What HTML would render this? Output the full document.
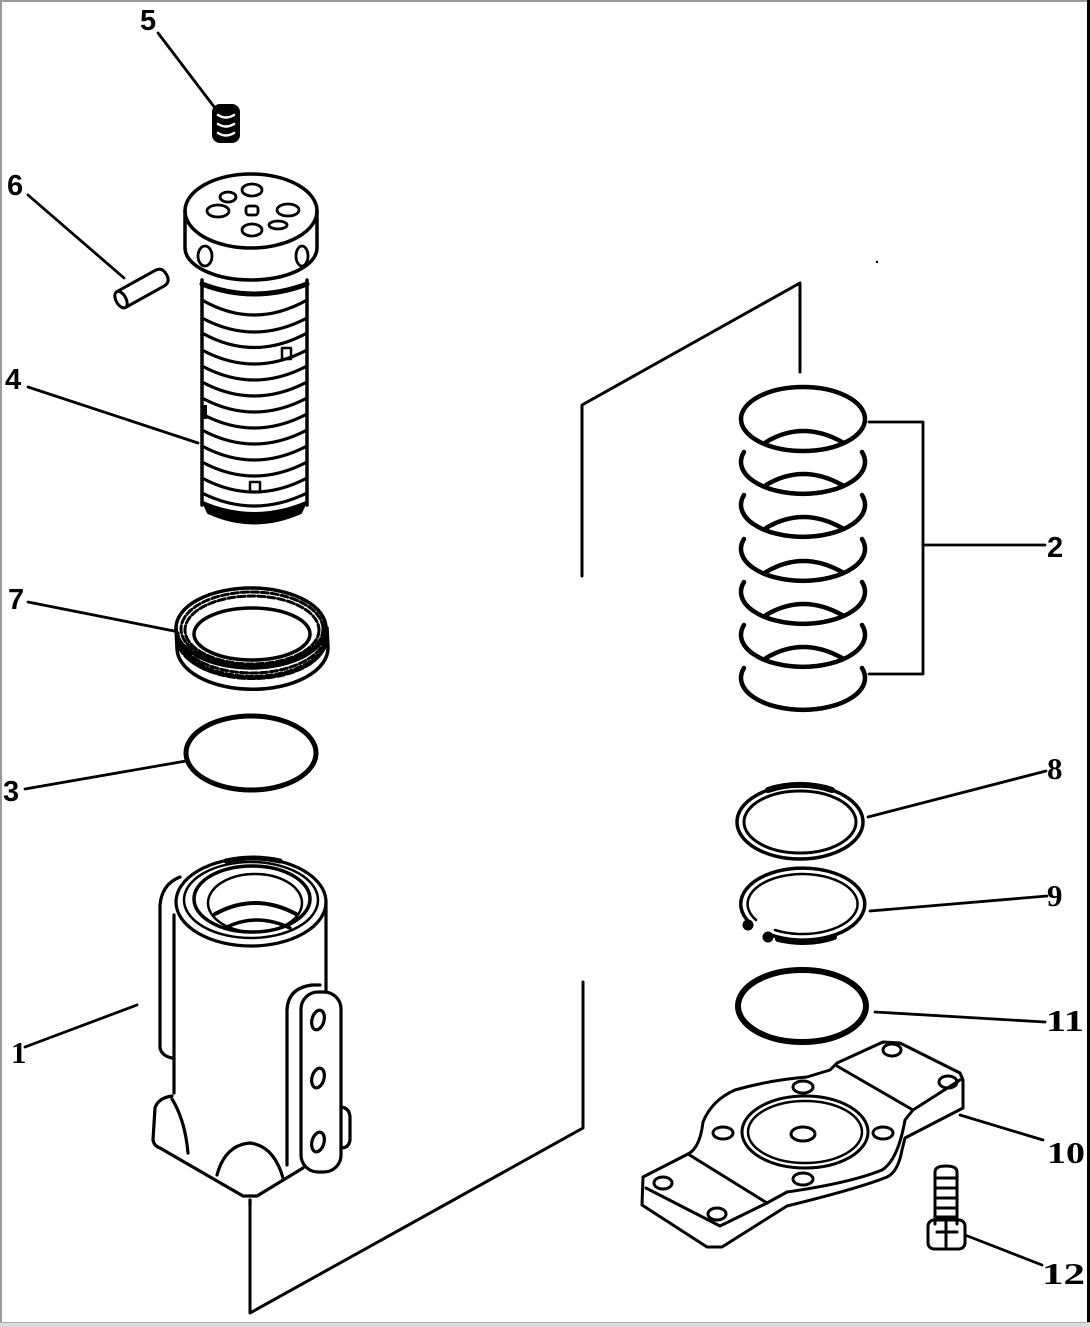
<!DOCTYPE html>
<html>
<head>
<meta charset="utf-8">
<style>
html,body{margin:0;padding:0;background:#fff;}
svg{display:block;}
.s{font-family:"Liberation Sans",sans-serif;font-weight:bold;font-size:29px;fill:#000;}
.f{font-family:"Liberation Serif",serif;font-weight:bold;font-size:31px;fill:#000;}
</style>
</head>
<body>
<svg width="1090" height="1327" viewBox="0 0 1090 1327" xmlns="http://www.w3.org/2000/svg">
<rect x="0" y="0" width="1090" height="1327" fill="#fff"/>
<!-- frame -->
<rect x="0" y="0" width="1090" height="2" fill="#9a9a9a"/>
<rect x="0" y="0" width="2" height="1327" fill="#9a9a9a"/>
<rect x="1087" y="0" width="3" height="1324" fill="#000"/>
<rect x="0" y="1322" width="1090" height="5" fill="#dcdcdc"/>
<rect x="0" y="1322" width="1090" height="1" fill="#b0b0b0"/>

<g fill="none" stroke="#000" stroke-linecap="round" stroke-linejoin="round">

<!-- exploded axis lines -->
<path d="M250 1202 L250 1313 L583 1128 L583 982" stroke-width="3"/>
<path d="M582 576 L582 405 L800 283 L800 372" stroke-width="3"/>

<!-- leader lines -->
<g stroke-width="2.8">
<line x1="158" y1="33" x2="215" y2="108"/>
<line x1="28" y1="195" x2="124" y2="278"/>
<line x1="28" y1="387" x2="198" y2="443"/>
<line x1="28" y1="602" x2="174" y2="631"/>
<line x1="25" y1="789" x2="186" y2="761"/>
<line x1="25" y1="1047" x2="137" y2="1005"/>
<path d="M869 422 L923 422 L923 674 L869 674"/>
<line x1="923" y1="545" x2="1045" y2="545"/>
<line x1="868" y1="817" x2="1046" y2="771"/>
<line x1="870" y1="911" x2="1047" y2="896"/>
<line x1="875" y1="1012" x2="1045" y2="1022"/>
<line x1="960" y1="1115" x2="1043" y2="1140"/>
<line x1="965" y1="1235" x2="1042" y2="1265"/>
</g>

<!-- Part 5 plug -->
<rect x="213" y="105" width="26" height="37" rx="7" fill="#000" stroke-width="2"/>
<path d="M218 115 Q226 120 234 115 M218 124 Q226 129 234 124 M218 133 Q226 138 234 133" stroke="#fff" stroke-width="2.5"/>

<!-- Part 6 pin -->
<g transform="rotate(-29 142 288)" stroke-width="3">
<path d="M118 279 L162 279 Q170 279 170 288 Q170 297 162 297 L118 297"/>
<ellipse cx="118" cy="288" rx="5" ry="9"/>
</g>

<!-- Part 4 core -->
<g stroke-width="3.5">
<ellipse cx="251" cy="211" rx="66" ry="37"/>
<path d="M185 211 L185 248 A66 32 0 0 0 317 248 L317 211"/>
<path d="M202 280 L202 505 M307 280 L307 505"/>
<path d="M202 284 Q254 304 307 284" stroke-width="5"/>
</g>
<g stroke-width="2.8">
<ellipse cx="252" cy="190" rx="10" ry="6"/>
<ellipse cx="228" cy="197" rx="8" ry="5"/>
<ellipse cx="218" cy="211" rx="11" ry="6"/>
<rect x="246" y="206" width="12" height="9" rx="3"/>
<ellipse cx="288" cy="210" rx="11" ry="6"/>
<ellipse cx="252" cy="230" rx="10" ry="6"/>
<ellipse cx="278" cy="225" rx="9" ry="4"/>
<ellipse cx="205" cy="256" rx="7" ry="10"/>
<ellipse cx="302" cy="256" rx="6" ry="10"/>
</g>
<g stroke-width="3.2">
<path d="M202 300 Q254 330 307 300"/>
<path d="M202 318 Q254 346 307 318"/>
<path d="M202 333 Q254 362 307 333"/>
<path d="M202 350 Q254 378 307 350"/>
<path d="M202 366 Q254 394 307 366"/>
<path d="M202 382 Q254 410 307 382"/>
<path d="M202 398 Q254 426 307 398"/>
<path d="M202 414 Q254 442 307 414"/>
<path d="M202 430 Q254 458 307 430"/>
<path d="M202 446 Q254 474 307 446"/>
<path d="M202 462 Q254 490 307 462"/>
<path d="M202 478 Q254 506 307 478"/>
<path d="M202 493 Q254 519 307 493"/>
</g>
<rect x="282" y="348" width="9" height="11" stroke-width="2.5"/>
<rect x="250" y="482" width="10" height="10" stroke-width="2.5"/>
<rect x="201" y="405" width="6" height="14" fill="#000" stroke="none"/>
<path d="M203 502 Q254 524 306 502 L301 513 Q254 534 208 513 Z" fill="#000" stroke-width="2"/>

<!-- Part 7 knurled ring -->
<g stroke-width="3.5">
<ellipse cx="251" cy="628" rx="75" ry="40"/>
<ellipse cx="252" cy="634" rx="58" ry="26"/>
<path d="M176 628 L177 648 A75 41 0 0 0 328 648 L327 628"/>
</g>
<g stroke-width="3" stroke-dasharray="7 3">
<ellipse cx="252" cy="630" rx="67" ry="34"/>
<ellipse cx="252" cy="629" rx="71" ry="37"/>
<path d="M177 638 A75 40 0 0 0 327 638"/>
<path d="M180 645 A73 38 0 0 0 325 645"/>
<path d="M178 633 A74 40 0 0 0 326 633"/>
<path d="M179 641 A74 40 0 0 0 326 641"/>
</g>

<!-- Part 3 O-ring -->
<ellipse cx="251" cy="753" rx="65" ry="37" stroke-width="5"/>

<!-- Part 1 housing -->
<g stroke-width="3.2">
<ellipse cx="251" cy="902" rx="75" ry="44"/>
<ellipse cx="251" cy="900" rx="67" ry="38" stroke-width="2.5"/>
<ellipse cx="252" cy="899" rx="58" ry="33" stroke-width="3.5"/>
<ellipse cx="255" cy="903" rx="47" ry="29" stroke-width="2.5"/>
<path d="M215 914 Q255 892 296 914" stroke-width="4"/>
<path d="M225 928 Q256 912 290 928" stroke-width="3.5"/>
<path d="M226 861 Q253 855 280 861" stroke-width="5"/>
<path d="M174 915 L174 1093"/>
<path d="M326 902 L326 990"/>
<path d="M180 877 Q162 884 160 905 L160 1048 Q162 1056 172 1058"/>
<path d="M287 1165 L287 1010 Q288 988 312 985 L320 985"/>
<rect x="301" y="992" width="40" height="180" rx="17"/>
<ellipse cx="318" cy="1020" rx="6" ry="10" transform="rotate(15 318 1020)"/>
<ellipse cx="318" cy="1078" rx="6" ry="10" transform="rotate(15 318 1078)"/>
<ellipse cx="318" cy="1142" rx="6" ry="10" transform="rotate(15 318 1142)"/>
<path d="M341 1107 Q350 1108 350 1118 L350 1140 Q349 1148 341 1148"/>
<path d="M172 1096 Q158 1098 155 1108 L153 1140 Q154 1146 160 1148 L243 1196 L257 1196 L303 1168"/>
<path d="M172 1099 Q185 1120 188 1153"/>
<path d="M217 1175 Q225 1145 250 1143 Q274 1146 283 1178"/>
<path d="M250 1200 L250 1205"/>
</g>

<!-- Part 2 rings -->
<g stroke-width="4.5">
<ellipse cx="803" cy="419" rx="62" ry="32"/>
<path d="M744 452 A62 32 0 1 0 862 452"/>
<path d="M744 495 A62 32 0 1 0 862 495"/>
<path d="M744 539 A62 32 0 1 0 862 539"/>
<path d="M744 582 A62 32 0 1 0 862 582"/>
<path d="M744 625 A62 32 0 1 0 862 625"/>
<path d="M744 668 A62 32 0 1 0 862 668"/>
<path d="M766 442 Q803 420 842 442"/>
<path d="M766 485 Q803 463 842 485"/>
<path d="M766 528 Q803 506 842 528"/>
<path d="M766 572 Q803 550 842 572"/>
<path d="M766 615 Q803 593 842 615"/>
<path d="M766 658 Q803 636 842 658"/>
</g>

<!-- Part 8 -->
<ellipse cx="800" cy="822" rx="63" ry="37" stroke-width="3.5"/>
<ellipse cx="800" cy="822" rx="56" ry="31" stroke-width="3"/>
<path d="M768 790 A63 37 0 0 1 832 790" stroke-width="6"/>

<!-- Part 9 -->
<path d="M750 923 A62 36 0 1 1 771 935" stroke-width="3.5"/>
<path d="M756 920 A55 30 0 1 1 775 930" stroke-width="2.5"/>
<path d="M778 939 A62 36 0 0 0 834 937" stroke-width="6"/>
<circle cx="748" cy="925" r="5" fill="#000"/>
<circle cx="768" cy="937" r="5" fill="#000"/>

<!-- Part 11 -->
<ellipse cx="802" cy="1006" rx="64" ry="36" stroke-width="6"/>

<!-- Part 10 flange -->
<g stroke-width="3">
<path d="M643 1177 L688 1154 Q700 1148 703 1122 Q712 1100 735 1090 Q770 1080 807 1077 L830 1070 L837 1063 L883 1042 L900 1043 L960 1073 L963 1080 L963 1108 L905 1138 L902 1150 Q898 1172 887 1177 Q860 1188 787 1206 L722 1247 L707 1247 L642 1205 Z"/>
<path d="M688 1154 L767 1203"/>
<path d="M646 1188 L720 1226 L767 1203"/>
<path d="M837 1066 L913 1110 L960 1080"/>
<path d="M913 1110 L905 1120 Q898 1160 882 1170 Q850 1183 787 1192 L767 1203"/>
<ellipse cx="805" cy="1132" rx="63" ry="36"/>
<ellipse cx="805" cy="1132" rx="57" ry="31" stroke-width="2.5"/>
<ellipse cx="803" cy="1134" rx="12" ry="7"/>
<ellipse cx="803" cy="1087" rx="10" ry="6"/>
<ellipse cx="723" cy="1133" rx="10" ry="6"/>
<ellipse cx="883" cy="1133" rx="10" ry="6"/>
<ellipse cx="803" cy="1179" rx="10" ry="6"/>
<ellipse cx="892" cy="1050" rx="9" ry="6"/>
<ellipse cx="948" cy="1082" rx="9" ry="6"/>
<ellipse cx="663" cy="1183" rx="9" ry="6"/>
<ellipse cx="717" cy="1214" rx="9" ry="6"/>
</g>

<!-- Part 12 bolt -->
<g stroke-width="3">
<path d="M935 1224 L935 1172 Q935 1166 946 1166 Q957 1166 957 1172 L957 1224"/>
<path d="M936 1178 L956 1178 M936 1188 L956 1188 M936 1198 L956 1198 M936 1208 L956 1208 M936 1217 L956 1217"/>
<rect x="928" y="1220" width="37" height="29" rx="6"/>
<path d="M937 1232 L957 1232 M946 1222 L946 1249"/>
</g>

<circle cx="877" cy="262" r="1.2" fill="#000" stroke="none"/>
</g>

<!-- labels -->
<text class="s" x="140" y="30">5</text>
<text class="s" x="7" y="195">6</text>
<text class="s" x="5" y="389">4</text>
<text class="s" x="8" y="609">7</text>
<text class="s" x="3" y="801">3</text>
<text class="f" x="11" y="1063">1</text>
<text class="s" x="1047" y="557">2</text>
<text class="f" x="1047" y="779">8</text>
<text class="f" x="1047" y="906">9</text>
<text class="f" x="1046" y="1031" textLength="38" lengthAdjust="spacingAndGlyphs">11</text>
<text class="f" x="1047" y="1163" textLength="38" lengthAdjust="spacingAndGlyphs">10</text>
<text class="f" x="1042" y="1284" textLength="43" lengthAdjust="spacingAndGlyphs">12</text>
</svg>
</body>
</html>
